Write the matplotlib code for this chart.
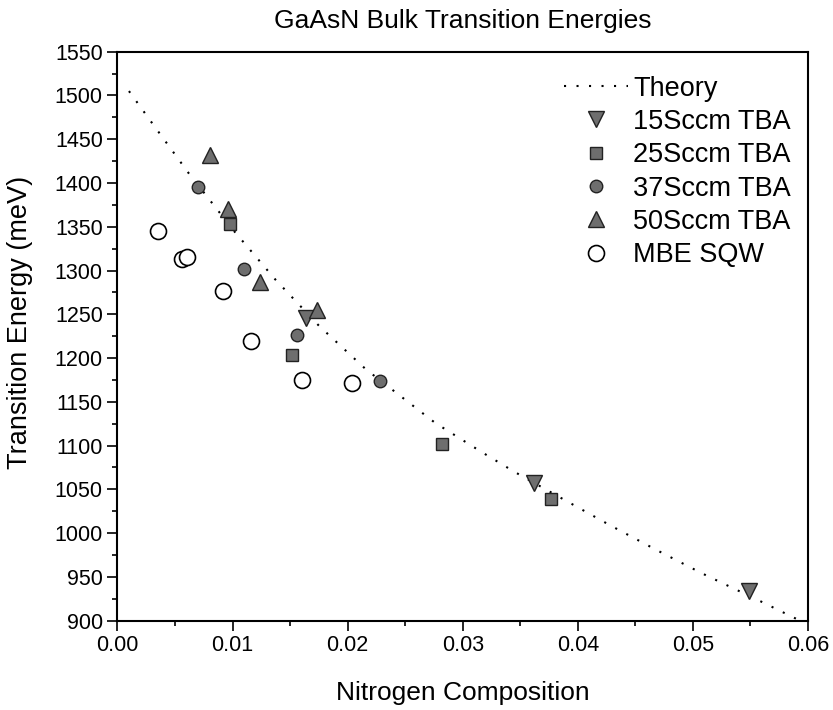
import matplotlib
matplotlib.use('Agg')
import matplotlib.pyplot as plt
from matplotlib.ticker import MultipleLocator

plt.rcParams['font.family'] = ['Liberation Sans', 'DejaVu Sans']

# Theory curve (band anticrossing estimate)
theory_x = [0.0010, 0.0032, 0.0062, 0.0102, 0.0137, 0.0175, 0.0216, 0.0276,
            0.0316, 0.0345, 0.0387, 0.0428, 0.0468, 0.0508, 0.0559, 0.0590]
theory_y = [1505, 1465, 1411, 1344, 1290, 1237, 1187, 1126,
            1093, 1070, 1039, 1009, 981, 954, 922, 902]

# Measured transition energies
tba15_x = [0.0164, 0.0362, 0.0549]
tba15_y = [1246, 1057, 934]
tba25_x = [0.0098, 0.0152, 0.0282, 0.0377]
tba25_y = [1353, 1204, 1102, 1039]
tba37_x = [0.0070, 0.0110, 0.0156, 0.0228]
tba37_y = [1395, 1302, 1226, 1174]
tba50_x = [0.0080, 0.0096, 0.0124, 0.0173]
tba50_y = [1432, 1370, 1287, 1255]
mbe_x = [0.0035, 0.0056, 0.0060, 0.0092, 0.0116, 0.0160, 0.0204]
mbe_y = [1345, 1313, 1316, 1277, 1220, 1175, 1171]

fig = plt.figure(figsize=(8.33, 7.10), dpi=100)
ax = fig.add_axes([0.141, 0.1258, 0.829, 0.8014])

fill = '#6e6e6e'
edge = '#222222'
ax.plot(theory_x, theory_y, color='black', linestyle=(0, (1, 5)), linewidth=1.5, label='Theory')
ax.plot(tba15_x, tba15_y, 'v', ms=11, mfc=fill, mec=edge, mew=1, label='15Sccm TBA')
ax.plot(tba25_x, tba25_y, 's', ms=9, mfc=fill, mec=edge, mew=1, label='25Sccm TBA')
ax.plot(tba37_x, tba37_y, 'o', ms=9, mfc=fill, mec=edge, mew=1, label='37Sccm TBA')
ax.plot(tba50_x, tba50_y, '^', ms=11, mfc=fill, mec=edge, mew=1, label='50Sccm TBA')
ax.plot(mbe_x, mbe_y, 'o', ms=11.5, mfc='white', mec='black', mew=1.2, label='MBE SQW')

ax.set_xlim(0, 0.06)
ax.set_ylim(900, 1550)
ax.xaxis.set_major_locator(MultipleLocator(0.01))
ax.xaxis.set_minor_locator(MultipleLocator(0.005))
ax.yaxis.set_major_locator(MultipleLocator(50))
ax.yaxis.set_minor_locator(MultipleLocator(25))
ax.xaxis.set_major_formatter(plt.FormatStrFormatter('%.2f'))

ax.tick_params(which='both', direction='out', top=False, right=False, width=1.2, labelsize=15.5)
ax.tick_params(which='major', length=7)
ax.tick_params(which='minor', length=3.5)
for s in ax.spines.values():
    s.set_linewidth(1.5)

ax.set_title('GaAsN Bulk Transition Energies', fontsize=19, pad=17)
ax.set_xlabel('Nitrogen Composition', fontsize=19)
ax.set_ylabel('Transition Energy (meV)', fontsize=19.5)
ax.xaxis.set_label_coords(0.5, -0.106)
ax.yaxis.set_label_coords(-0.122, 0.525)

ax.legend(loc='upper left', bbox_to_anchor=(0.647, 0.958), frameon=False, fontsize=19.5,
          handlelength=2.37, handletextpad=0.18, labelspacing=0.27, borderpad=0,
          borderaxespad=0)

fig.savefig('out.png', dpi=100)
